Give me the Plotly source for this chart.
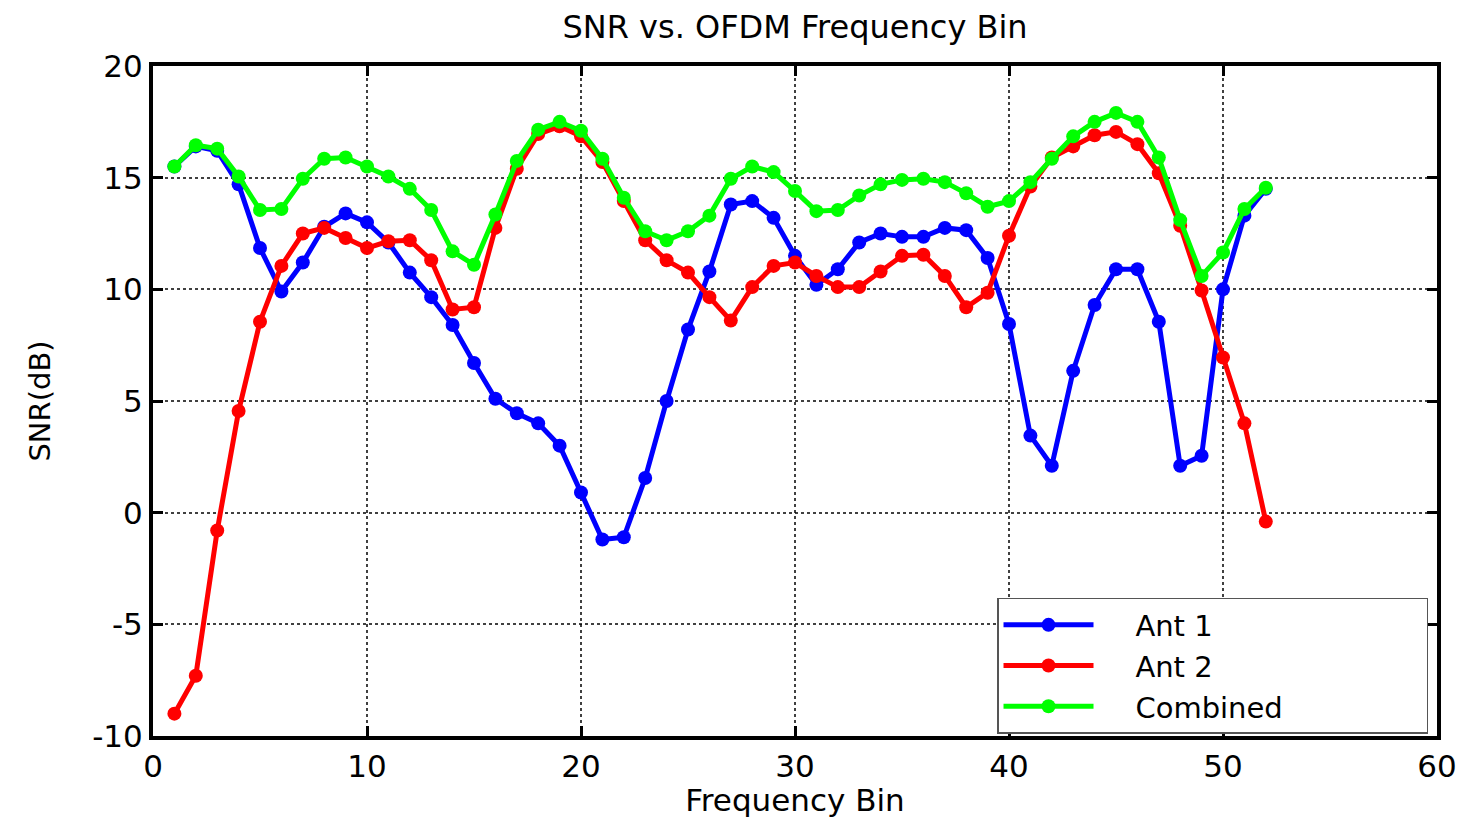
import plotly.graph_objects as go

bins = list(range(1, 53))

ant1 = [15.5, 16.4, 16.2, 14.7, 11.85, 9.9, 11.2, 12.8, 13.4, 13.0,
        12.1, 10.75, 9.65, 8.4, 6.7, 5.1, 4.45, 4.0, 3.0, 0.9,
        -1.2, -1.1, 1.55, 5.0, 8.2, 10.8, 13.8, 13.95, 13.2, 11.5,
        10.2, 10.9, 12.1, 12.5, 12.35, 12.35, 12.75, 12.65, 11.4, 8.45,
        3.45, 2.1, 6.35, 9.3, 10.9, 10.9, 8.55, 2.1, 2.55, 10.0,
        13.3, 14.5]

ant2 = [-9.0, -7.3, -0.8, 4.55, 8.55, 11.05, 12.5, 12.75, 12.3, 11.85,
        12.15, 12.2, 11.3, 9.1, 9.2, 12.75, 15.4, 16.95, 17.3, 16.85,
        15.7, 13.95, 12.2, 11.3, 10.75, 9.65, 8.6, 10.1, 11.05, 11.2,
        10.6, 10.1, 10.1, 10.8, 11.5, 11.55, 10.6, 9.2, 9.85, 12.4,
        14.6, 15.9, 16.4, 16.9, 17.05, 16.5, 15.2, 12.85, 9.95, 6.95,
        4.0, -0.4]

combined = [15.5, 16.45, 16.3, 15.05, 13.55, 13.6, 14.95, 15.85, 15.9, 15.5,
            15.05, 14.5, 13.55, 11.7, 11.1, 13.35, 15.75, 17.15, 17.5, 17.1,
            15.85, 14.1, 12.6, 12.2, 12.6, 13.3, 14.95, 15.5, 15.25, 14.4,
            13.5, 13.55, 14.2, 14.7, 14.9, 14.95, 14.8, 14.3, 13.7, 13.95,
            14.8, 15.85, 16.85, 17.5, 17.9, 17.5, 15.9, 13.1, 10.6, 11.65,
            13.6, 14.55]

x_ticks = [0, 10, 20, 30, 40, 50, 60]
y_ticks = [-10, -5, 0, 5, 10, 15, 20]
y_tick_labels = ["-10", "-5", "0", "5", "10", "15", "20"]

names = ["Ant 1", "Ant 2", "Combined"]
colors = ["#0000ff", "#ff0000", "#00ff00"]
values = [ant1, ant2, combined]

FONT = "DejaVu Sans"
NB = "\u00a0"

fig = go.Figure()
for i, (name, vals, col) in enumerate(zip(names, values, colors)):
    label = NB * 4 + name + (NB * 15 if i == 2 else "")
    fig.add_trace(go.Scatter(
        x=bins, y=vals, name=label, mode="lines+markers",
        line=dict(color=col, width=5),
        marker=dict(color=col, size=14, symbol="circle"),
    ))

axis_common = dict(
    showline=True, mirror="ticks", linecolor="black", linewidth=4,
    ticks="inside", ticklen=10, tickwidth=3, tickcolor="black",
    showgrid=True, gridcolor="rgba(0,0,0,0.75)", gridwidth=1.5, griddash="dot",
    zeroline=False,
    tickfont=dict(family=FONT, size=31, color="black"),
)

W, H = 1461, 810
fig.update_layout(
    width=W, height=H,
    paper_bgcolor="white", plot_bgcolor="white",
    margin=dict(l=145, r=26, t=58, b=74),
    title=dict(text="SNR vs. OFDM Frequency Bin", x=787 / W, xanchor="center",
               y=1 - 8 / H, yanchor="top", yref="container",
               font=dict(family=FONT, size=32, color="black")),
    xaxis=dict(range=[0, 60], tickvals=x_ticks,
               title=dict(text="Frequency Bin", standoff=0,
                          font=dict(family=FONT, size=31, color="black")),
               **axis_common),
    yaxis=dict(range=[-10, 20], tickvals=y_ticks, ticktext=y_tick_labels,
               title=dict(text="SNR(dB)", standoff=34,
                          font=dict(family=FONT, size=29, color="black")),
               **axis_common),
    legend=dict(x=0.993, y=0.003, xanchor="right", yanchor="bottom",
                bgcolor="white", bordercolor="#555555", borderwidth=1.5,
                font=dict(family=FONT, size=29, color="black"),
                itemwidth=90, tracegroupgap=0),
    showlegend=True,
)

fig.write_html("out.html")
